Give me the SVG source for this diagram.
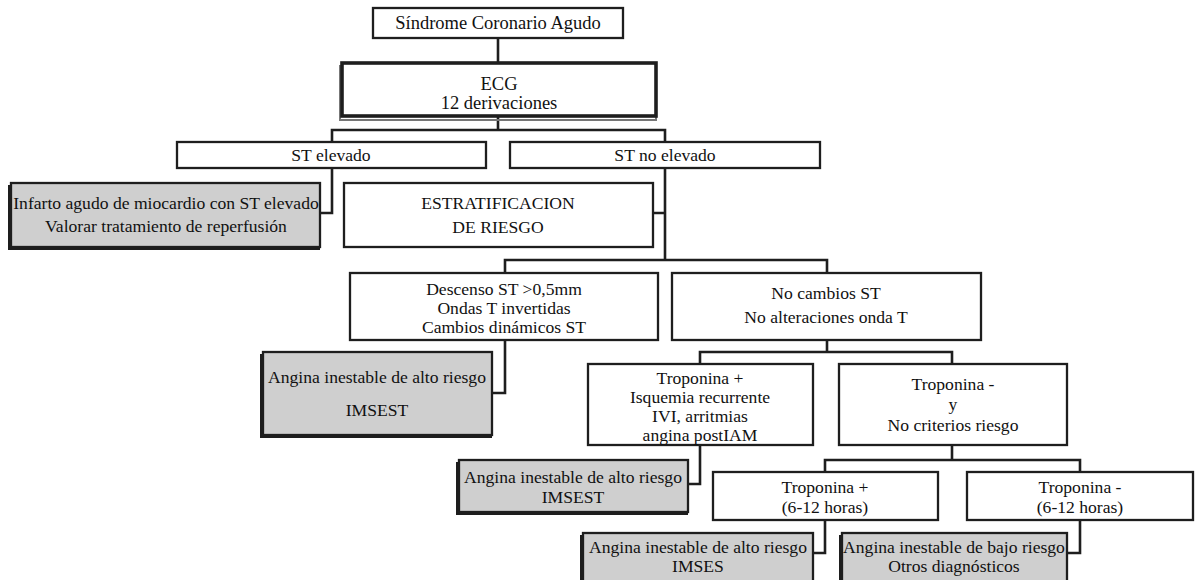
<svg xmlns="http://www.w3.org/2000/svg" width="1196" height="580" viewBox="0 0 1196 580" font-family="'Liberation Serif', 'Times New Roman', serif">
<style>
.b{fill:#fff;stroke:#1e1e1e;stroke-width:2.3}
.g{fill:#cfcfcf;stroke:#1e1e1e;stroke-width:2.3}
.sh{fill:#1e1e1e}
.t{font-family:'Liberation Serif','Times New Roman',serif;font-size:17.6px;fill:#111;text-anchor:middle}
.tl{font-size:18.5px}
.c{fill:none;stroke:#1e1e1e;stroke-width:2.6}
</style>
<rect width="1196" height="580" fill="#fff"/>
<g id="connectors" class="c">
<path d="M498 38V63"/>
<path d="M498 117V130M332 142V130H665V142"/>
<path d="M332 168V213H320"/>
<path d="M665 168V260M653 213H665"/>
<path d="M505 273V260H827V273"/>
<path d="M505 340V393H492"/>
<path d="M827 340V352M700 364V352H952V364"/>
<path d="M700 445V484H688"/>
<path d="M952 445V460M825 472V460H1080V472"/>
<path d="M825 520V553H813"/>
<path d="M1080 520V553H1067"/>
</g>
<g id="n1"><rect class="b" x="373" y="8" width="250" height="30"/><text class="t tl" x="498" y="29">Síndrome Coronario Agudo</text></g>
<g id="n2"><rect x="340" y="66" width="316" height="54" fill="none" stroke="#777" stroke-width="2"/><rect x="342" y="63" width="314" height="53" fill="#fff" stroke="#1e1e1e" stroke-width="3.6"/><text class="t tl" x="499" y="90">ECG</text><text class="t tl" x="499" y="109">12 derivaciones</text></g>
<g id="n3"><rect class="b" x="177" y="142" width="309" height="26"/><text class="t" x="331" y="161">ST elevado</text></g>
<g id="n4"><rect class="b" x="510" y="142" width="310" height="26"/><text class="t" x="665" y="161">ST no elevado</text></g>
<g id="n5"><rect class="sh" x="8" y="185" width="312" height="65"/><rect class="g" x="11" y="183" width="309" height="64"/><text class="t" x="166" y="209">Infarto agudo de miocardio con ST elevado</text><text class="t" x="166" y="232">Valorar tratamiento de reperfusión</text></g>
<g id="n6"><rect class="b" x="344" y="183" width="309" height="64"/><text class="t" x="498" y="209">ESTRATIFICACION</text><text class="t" x="498" y="233">DE RIESGO</text></g>
<g id="n7"><rect class="b" x="350" y="273" width="308" height="67"/><text class="t" x="504" y="295">Descenso ST &gt;0,5mm</text><text class="t" x="504" y="314">Ondas T invertidas</text><text class="t" x="504" y="333">Cambios dinámicos ST</text></g>
<g id="n8"><rect class="b" x="672" y="273" width="309" height="67"/><text class="t" x="826" y="299">No cambios ST</text><text class="t" x="826" y="323">No alteraciones onda T</text></g>
<g id="n9"><rect class="sh" x="260" y="354" width="232" height="84"/><rect class="g" x="263" y="352" width="229" height="83"/><text class="t" x="377" y="383">Angina inestable de alto riesgo</text><text class="t" x="377" y="416">IMSEST</text></g>
<g id="n10"><rect class="b" x="588" y="364" width="225" height="81"/><text class="t" x="700" y="384">Troponina +</text><text class="t" x="700" y="403">Isquemia recurrente</text><text class="t" x="700" y="422">IVI, arritmias</text><text class="t" x="700" y="441">angina postIAM</text></g>
<g id="n11"><rect class="b" x="839" y="364" width="228" height="81"/><text class="t" x="953" y="390">Troponina -</text><text class="t" x="953" y="410">y</text><text class="t" x="953" y="431">No criterios riesgo</text></g>
<g id="n12"><rect class="sh" x="456" y="462" width="232" height="53"/><rect class="g" x="459" y="460" width="229" height="52"/><text class="t" x="573" y="483">Angina inestable de alto riesgo</text><text class="t" x="573" y="503">IMSEST</text></g>
<g id="n13"><rect class="b" x="713" y="472" width="225" height="48"/><text class="t" x="825" y="493">Troponina +</text><text class="t" x="825" y="513">(6-12 horas)</text></g>
<g id="n14"><rect class="b" x="967" y="472" width="226" height="48"/><text class="t" x="1080" y="493">Troponina -</text><text class="t" x="1080" y="513">(6-12 horas)</text></g>
<g id="n15"><rect class="sh" x="580" y="535" width="233" height="50"/><rect class="g" x="583" y="533" width="230" height="50"/><text class="t" x="698" y="553">Angina inestable de alto riesgo</text><text class="t" x="698" y="572">IMSES</text></g>
<g id="n16"><rect class="sh" x="839" y="535" width="228" height="50"/><rect class="g" x="842" y="533" width="225" height="50"/><text class="t" x="954" y="553">Angina inestable de bajo riesgo</text><text class="t" x="954" y="572">Otros diagnósticos</text></g>
</svg>
